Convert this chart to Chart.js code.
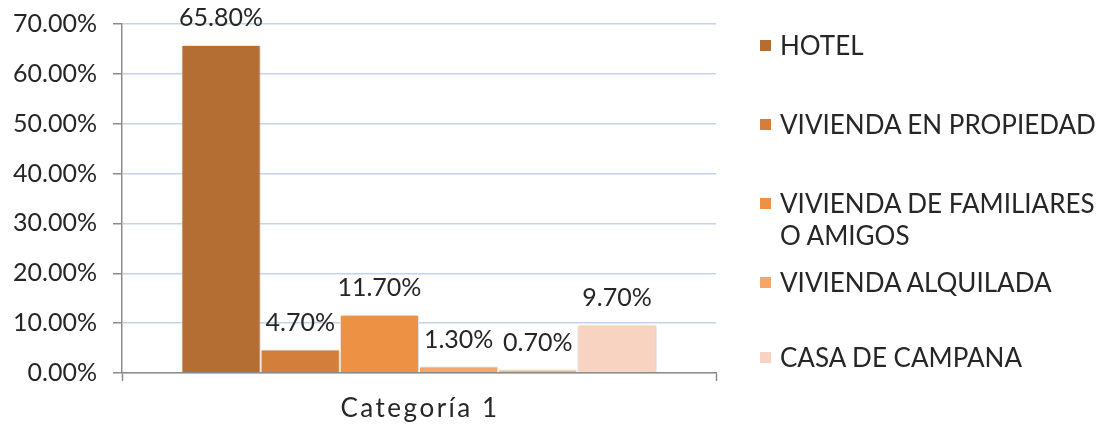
<!DOCTYPE html>
<html>
<head>
<meta charset="utf-8">
<script src="https://cdn.jsdelivr.net/npm/chart.js@4.4.1/dist/chart.umd.min.js"></script>
<style>
  html, body { margin: 0; padding: 0; background: #fff; }
  #wrap { position: relative; width: 1105px; height: 424px; }
  #legend { position: absolute; left: 0; top: 0; width: 1105px; height: 424px; pointer-events: none;
            font-family: Lato, "Open Sans", sans-serif; font-size: 26px; color: #262626; }
  .item { position: absolute; left: 760px; line-height: 32px; }
  .sw { position: absolute; left: 0; top: 11px; width: 11px; height: 11px; }
  .txt { position: absolute; left: 20px; top: 0; white-space: nowrap; }
</style>
</head>
<body>
<div id="wrap">
  <canvas id="c" width="1105" height="424"></canvas>
  <div id="legend"></div>
</div>
<script>
const categories = ['Categoría 1'];
const seriesNames = ['HOTEL', 'VIVIENDA EN PROPIEDAD', 'VIVIENDA DE FAMILIARES\nO AMIGOS', 'VIVIENDA ALQUILADA', '', 'CASA DE CAMPANA'];
const seriesValues = [65.8, 4.7, 11.7, 1.3, 0.7, 9.7];
const seriesColors = ['#B46E34', '#D37F3B', '#ED9144', '#F3A56A', '#F6B68E', '#F9D3C1'];
const yTicks = [0, 10, 20, 30, 40, 50, 60, 70];

const FONT = 'Lato, "Open Sans", sans-serif';
const TEXT = '#262626';
const AXIS = '#8C8C8C';

const datasets = seriesValues.map((v, i) => ({
  label: seriesNames[i],
  data: [v],
  backgroundColor: seriesColors[i],
  borderColor: '#FFFFFF',
  borderWidth: 1,
  categoryPercentage: 0.8,
  barPercentage: 1.0
}));

const shadowPlugin = {
  id: 'shadow',
  beforeDatasetsDraw(chart) {
    const ctx = chart.ctx;
    ctx.save();
    ctx.shadowColor = 'rgba(0,0,0,0.22)';
    ctx.shadowBlur = 4;
    ctx.shadowOffsetX = 1;
    ctx.shadowOffsetY = 0;
  },
  afterDatasetsDraw(chart) {
    chart.ctx.restore();
  }
};

const labelPlugin = {
  id: 'valueLabels',
  afterDatasetsDraw(chart) {
    const ctx = chart.ctx;
    ctx.save();
    ctx.font = '25px ' + FONT;
    ctx.fillStyle = TEXT;
    ctx.textAlign = 'center';
    ctx.textBaseline = 'alphabetic';
    chart.data.datasets.forEach((ds, i) => {
      const meta = chart.getDatasetMeta(i);
      meta.data.forEach((bar, j) => {
        const v = ds.data[j];
        ctx.fillText(v.toFixed(2) + '%', bar.x, bar.y - 19);
      });
    });
    ctx.restore();
  }
};

// category label drawn with the x scale's own tick position, with wider letter spacing
const categoryLabelPlugin = {
  id: 'categoryLabel',
  afterDraw(chart) {
    const ctx = chart.ctx;
    const xs = chart.scales.x;
    ctx.save();
    ctx.font = '26px ' + FONT;
    ctx.fillStyle = TEXT;
    ctx.textAlign = 'center';
    ctx.textBaseline = 'alphabetic';
    if ('letterSpacing' in ctx) ctx.letterSpacing = '2.5px';
    chart.data.labels.forEach((lab, i) => {
      ctx.fillText(lab, xs.getPixelForTick(i) + 1, xs.top + 44);
    });
    ctx.restore();
  }
};

const chart = new Chart(document.getElementById('c'), {
  type: 'bar',
  data: { labels: categories, datasets },
  options: {
    responsive: false,
    animation: false,
    devicePixelRatio: 1,
    layout: { padding: { left: 0, right: 389, top: 24, bottom: 0 } },
    plugins: {
      legend: { display: false },
      tooltip: { enabled: false }
    },
    scales: {
      x: {
        offset: true,
        grid: { display: true, drawOnChartArea: false, drawTicks: true, tickLength: 8, tickColor: AXIS, tickWidth: 1.5 },
        border: { display: true, color: AXIS, width: 1.5 },
        ticks: { display: false },
        afterFit(s) { s.height = 51; s.paddingLeft = 0; s.paddingRight = 0; }
      },
      y: {
        min: yTicks[0],
        max: yTicks[yTicks.length - 1],
        afterBuildTicks(s) { s.ticks = yTicks.map(v => ({ value: v })); },
        grid: { color: '#C3D3EE', lineWidth: 1.5, drawTicks: true, tickLength: 9, tickColor: AXIS, tickWidth: 1.5 },
        border: { display: true, color: AXIS, width: 1.5 },
        ticks: { color: TEXT, font: { family: FONT, size: 25 }, padding: 16,
                 callback: v => Number(v).toFixed(2) + '%' },
        afterFit(s) { s.width = 122; s.paddingTop = 0; s.paddingBottom = 0; }
      }
    }
  },
  plugins: [shadowPlugin, labelPlugin, categoryLabelPlugin]
});

// HTML legend built from the chart's datasets (the unnamed series is not listed)
const legendTops = [29, 108, 187, 266, 341];
const legend = document.getElementById('legend');
let k = 0;
chart.data.datasets.forEach((ds) => {
  if (!ds.label) return;
  const item = document.createElement('div');
  item.className = 'item';
  item.style.top = legendTops[k++] + 'px';
  const sw = document.createElement('div');
  sw.className = 'sw';
  sw.style.background = ds.backgroundColor;
  const tx = document.createElement('div');
  tx.className = 'txt';
  tx.innerHTML = ds.label.split('\n').join('<br>');
  item.appendChild(sw);
  item.appendChild(tx);
  legend.appendChild(item);
});
</script>
</body>
</html>
